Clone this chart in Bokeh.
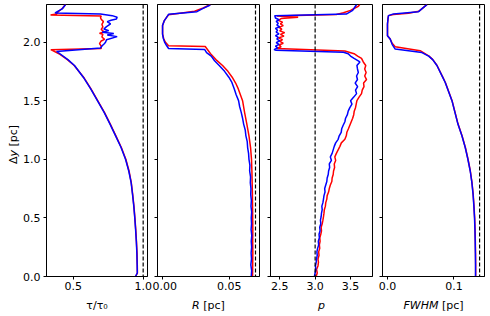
import math
from bokeh.plotting import figure
from bokeh.layouts import row, column
from bokeh.models import Range1d, FixedTicker, PrintfTickFormatter, Span
from bokeh.core.properties import value
from bokeh.embed import file_html
from bokeh.resources import INLINE

FONT = "DejaVu Sans"
RED = "#ff0000"
BLUE = "#0000ff"

# ---------------- data ----------------
y_ticks = [0.0, 0.5, 1.0, 1.5, 2.0]
y_limits = [0.0, 2.32]

# panel 1: tau / tau0
tau_blue_y = [0.00, 0.03, 0.10, 0.20, 0.30, 0.40, 0.50, 0.60, 0.70, 0.80, 0.90, 1.00, 1.10, 1.20,
              1.30, 1.40, 1.50, 1.60, 1.70, 1.80, 1.85, 1.90, 1.92, 1.949, 1.968, 1.985, 1.997,
              2.020, 2.046, 2.060, 2.072, 2.083, 2.097, 2.111, 2.131, 2.154, 2.174, 2.185, 2.197,
              2.211, 2.225, 2.239, 2.248, 2.282, 2.320]
tau_blue_x = [0.945, 0.958, 0.957, 0.955, 0.951, 0.946, 0.940, 0.933, 0.924, 0.914, 0.897, 0.874,
              0.842, 0.803, 0.763, 0.721, 0.673, 0.625, 0.572, 0.509, 0.462, 0.405, 0.381, 0.695,
              0.707, 0.722, 0.731, 0.738, 0.814, 0.743, 0.790, 0.707, 0.754, 0.719, 0.738, 0.767,
              0.743, 0.770, 0.809, 0.814, 0.779, 0.695, 0.370, 0.421, 0.445]
tau_red_y = [0.00, 0.03, 0.10, 0.20, 0.30, 0.40, 0.50, 0.60, 0.70, 0.80, 0.90, 1.00, 1.10, 1.20,
             1.30, 1.40, 1.50, 1.60, 1.70, 1.80, 1.85, 1.90, 1.935, 1.945, 1.966, 1.986, 2.009,
             2.023, 2.043, 2.066, 2.074, 2.088, 2.108, 2.128, 2.151, 2.174, 2.194, 2.208, 2.222,
             2.231, 2.240, 2.260, 2.290, 2.320]
tau_red_x = [0.946, 0.959, 0.958, 0.956, 0.952, 0.947, 0.941, 0.934, 0.925, 0.915, 0.899, 0.876,
             0.844, 0.805, 0.765, 0.723, 0.675, 0.627, 0.574, 0.507, 0.458, 0.398, 0.340, 0.700,
             0.700, 0.688, 0.700, 0.724, 0.705, 0.712, 0.688, 0.719, 0.700, 0.712, 0.705, 0.716,
             0.700, 0.695, 0.700, 0.338, 0.380, 0.395, 0.425, 0.445]

# panel 2: R [pc]
r_blue_y = [0.00, 0.05, 0.10, 0.15, 0.20, 0.25, 0.30, 0.35, 0.40, 0.45, 0.50, 0.55, 0.60, 0.65,
            0.70, 0.75, 0.80, 0.85, 0.90, 0.95, 1.00, 1.05, 1.10, 1.15, 1.20, 1.25, 1.30, 1.35,
            1.40, 1.45, 1.50, 1.55, 1.60, 1.655, 1.70, 1.75, 1.80, 1.84, 1.88, 1.91, 1.937,
            1.945, 1.97, 2.00, 2.03, 2.066, 2.14, 2.18, 2.21, 2.236, 2.259, 2.285, 2.316]
r_blue_x = [0.0665, 0.0668, 0.0662, 0.0667, 0.0664, 0.0668, 0.0665, 0.0669, 0.0664, 0.0667,
            0.0665, 0.0668, 0.0663, 0.0666, 0.0661, 0.0663, 0.0658, 0.0660, 0.0653, 0.0655,
            0.0648, 0.0645, 0.0638, 0.0635, 0.0625, 0.0620, 0.0608, 0.0600, 0.0590, 0.0578,
            0.0570, 0.0552, 0.0538, 0.0520, 0.0497, 0.0465, 0.0425, 0.0390, 0.0365, 0.0330,
            0.0315, 0.0045, 0.0030, 0.0015, 0.0006, 0.0000, 0.0000, 0.0012, 0.0030, 0.0045,
            0.0258, 0.0300, 0.0358]
r_red_y = [0.00, 0.10, 0.20, 0.30, 0.40, 0.50, 0.60, 0.70, 0.80, 0.90, 1.00, 1.10, 1.20, 1.30,
           1.40, 1.50, 1.60, 1.65, 1.70, 1.75, 1.80, 1.85, 1.90, 1.962, 1.968, 2.00, 2.03, 2.07,
           2.14, 2.18, 2.21, 2.232, 2.245, 2.262, 2.290, 2.320]
r_red_x = [0.0675, 0.0676, 0.0677, 0.0676, 0.0677, 0.0676, 0.0675, 0.0674, 0.0672, 0.0670,
           0.0667, 0.0660, 0.0648, 0.0632, 0.0615, 0.0600, 0.0568, 0.0548, 0.0522, 0.0490,
           0.0450, 0.0400, 0.0360, 0.0320, 0.0045, 0.0020, 0.0008, 0.0000, 0.0000, 0.0012,
           0.0030, 0.0045, 0.0130, 0.0240, 0.0305, 0.0358]

# panel 3: p
p_blue_y = [0.00, 0.03, 0.06, 0.09, 0.12, 0.15, 0.18, 0.21, 0.24, 0.27, 0.30, 0.33, 0.36, 0.39,
            0.42, 0.45, 0.48, 0.51, 0.54, 0.57, 0.60, 0.63, 0.66, 0.69, 0.72, 0.75, 0.78, 0.81,
            0.84, 0.87, 0.90, 0.93, 0.96, 0.99, 1.02, 1.05, 1.08, 1.11, 1.14, 1.17, 1.20, 1.23,
            1.26, 1.29, 1.32, 1.35, 1.38, 1.41, 1.44, 1.47, 1.50, 1.53, 1.56, 1.59, 1.62, 1.65,
            1.68, 1.71, 1.74, 1.77, 1.80, 1.83, 1.86, 1.88, 1.90, 1.912, 1.929, 1.935, 1.95,
            1.965, 1.98, 1.995, 2.01, 2.025, 2.04, 2.055, 2.07, 2.085, 2.10, 2.115, 2.13, 2.145,
            2.16, 2.175, 2.19, 2.205, 2.225, 2.238, 2.27, 2.32]
p_blue_x = [2.990, 3.000, 3.010, 3.005, 3.015, 3.020, 3.030, 3.025, 3.035, 3.050, 3.045, 3.060,
            3.055, 3.070, 3.065, 3.080, 3.075, 3.085, 3.090, 3.100, 3.095, 3.110, 3.118, 3.125,
            3.140, 3.135, 3.150, 3.165, 3.170, 3.185, 3.190, 3.205, 3.200, 3.230, 3.215, 3.240,
            3.255, 3.270, 3.290, 3.325, 3.340, 3.368, 3.375, 3.396, 3.420, 3.430, 3.455, 3.467,
            3.490, 3.520, 3.500, 3.545, 3.585, 3.570, 3.600, 3.565, 3.598, 3.585, 3.610, 3.598,
            3.590, 3.632, 3.550, 3.500, 3.467, 3.400, 2.450, 2.420, 2.470, 2.440, 2.490, 2.450,
            2.500, 2.460, 2.480, 2.440, 2.490, 2.450, 2.470, 2.440, 2.500, 2.460, 2.480, 2.450,
            2.490, 2.440, 2.430, 3.440, 3.530, 3.585]
p_red_y = [0.00, 0.03, 0.06, 0.09, 0.12, 0.15, 0.18, 0.21, 0.24, 0.27, 0.30, 0.33, 0.36, 0.39,
           0.42, 0.45, 0.48, 0.51, 0.54, 0.57, 0.60, 0.63, 0.66, 0.69, 0.72, 0.75, 0.78, 0.81,
           0.84, 0.87, 0.90, 0.93, 0.96, 0.99, 1.02, 1.05, 1.08, 1.11, 1.14, 1.17, 1.20, 1.23,
           1.26, 1.29, 1.32, 1.35, 1.38, 1.41, 1.44, 1.47, 1.50, 1.53, 1.56, 1.59, 1.62, 1.65,
           1.68, 1.71, 1.74, 1.77, 1.80, 1.83, 1.86, 1.88, 1.90, 1.923, 1.945, 1.96, 1.975,
           1.99, 2.005, 2.02, 2.035, 2.05, 2.065, 2.08, 2.095, 2.11, 2.125, 2.14, 2.155, 2.17,
           2.185, 2.20, 2.212, 2.222, 2.235, 2.25, 2.27, 2.305, 2.32]
p_red_x = [3.014, 3.030, 3.020, 3.040, 3.047, 3.040, 3.055, 3.050, 3.065, 3.060, 3.070, 3.066,
           3.080, 3.090, 3.085, 3.100, 3.110, 3.118, 3.125, 3.130, 3.145, 3.150, 3.165, 3.170,
           3.190, 3.200, 3.215, 3.236, 3.240, 3.255, 3.260, 3.275, 3.270, 3.290, 3.278, 3.300,
           3.325, 3.350, 3.370, 3.420, 3.440, 3.448, 3.470, 3.490, 3.510, 3.530, 3.545, 3.552,
           3.570, 3.580, 3.590, 3.620, 3.655, 3.665, 3.690, 3.684, 3.726, 3.700, 3.720, 3.700,
           3.715, 3.680, 3.655, 3.600, 3.550, 3.420, 2.460, 2.520, 2.490, 2.550, 2.500, 2.540,
           2.480, 2.560, 2.510, 2.570, 2.500, 2.530, 2.490, 2.550, 2.510, 2.540, 2.480, 2.520,
           2.760, 2.460, 3.300, 3.400, 3.500, 3.610, 3.630]

# panel 4: FWHM [pc]
f_blue_y = [0.00, 0.10, 0.20, 0.30, 0.40, 0.50, 0.60, 0.70, 0.80, 0.90, 1.00, 1.10, 1.20, 1.30,
            1.40, 1.50, 1.60, 1.655, 1.70, 1.80, 1.85, 1.88, 1.91, 1.94, 1.98, 2.026, 2.054,
            2.154, 2.20, 2.225, 2.24, 2.259, 2.319]
f_blue_x = [0.1325, 0.1325, 0.1323, 0.1320, 0.1316, 0.1310, 0.1300, 0.1288, 0.1270, 0.1245,
            0.1210, 0.1170, 0.1120, 0.1060, 0.1015, 0.0970, 0.0905, 0.0869, 0.0830, 0.0744,
            0.0680, 0.0620, 0.0518, 0.0116, 0.0070, 0.0040, 0.0000, 0.0000, 0.0008, 0.0015,
            0.0090, 0.0467, 0.0593]
f_red_y = [0.00, 0.10, 0.20, 0.30, 0.40, 0.50, 0.60, 0.70, 0.80, 0.90, 1.00, 1.10, 1.20, 1.30,
           1.40, 1.50, 1.60, 1.655, 1.70, 1.80, 1.85, 1.88, 1.926, 1.96, 1.99, 2.026, 2.054,
           2.154, 2.20, 2.225, 2.235, 2.245, 2.262, 2.319]
f_red_x = [0.1327, 0.1327, 0.1325, 0.1322, 0.1318, 0.1312, 0.1302, 0.1290, 0.1272, 0.1247,
           0.1212, 0.1172, 0.1122, 0.1062, 0.1017, 0.0972, 0.0907, 0.0871, 0.0832, 0.0746,
           0.0682, 0.0625, 0.0492, 0.0116, 0.0070, 0.0040, 0.0000, 0.0000, 0.0008, 0.0015,
           0.0090, 0.0316, 0.0470, 0.0593]

# reference (dashed) lines
ref_lines = [1.0, 0.0697, 3.0, 0.1386]

# axis settings
x_limits = [(0.309, 1.031), (-0.0038, 0.0727), (2.37, 3.81), (-0.0075, 0.146)]
x_ticks = [[0.5, 1.0], [0.0, 0.05], [2.5, 3.0, 3.5], [0.0, 0.1]]
x_formats = ["%.1f", "%.2f", "%.1f", "%.1f"]

# axis-label pieces: (text, italic?, advance in em incl. following space)
x_label_parts = [
    [("τ/τ₀", False, 1.90)],
    [("R", True, 0.695 + 0.318), ("[pc]", False, 1.965)],
    [("p", True, 0.635)],
    [("FWHM", True, 3.179 + 0.318), ("[pc]", False, 1.965)],
]
y_label_parts = [("Δ", False, 0.684), ("y", True, 0.592 + 0.318), ("[pc]", False, 1.965)]

# ---------------- layout constants ----------------
FS = "11px"
EM = 11.0
FRAME_H = 272
TOP_B = 4
BOT_B = 18
TOP_H = TOP_B + FRAME_H + BOT_B
YLAB_W = 20
LAB_H = 21
LAB_BASE = 10      # baseline height of x labels inside the strip
YLAB_BASE = 12.5   # baseline x of rotated y label
# (frame width, left border, right border)
geom = [(101, 26, 5), (102, 5, 5), (102, 6, 5), (102, 5, 3)]


def make_panel(i, first):
    fw, bl, br = geom[i]
    p = figure(frame_width=fw, frame_height=FRAME_H,
               x_range=Range1d(*x_limits[i]), y_range=Range1d(*y_limits),
               output_backend="svg", toolbar_location=None,
               min_border_left=bl, min_border_right=br,
               min_border_top=TOP_B, min_border_bottom=BOT_B)
    p.grid.visible = False
    p.outline_line_color = "black"
    p.outline_line_width = 1
    p.background_fill_color = "white"
    p.border_fill_color = "white"

    xa = p.xaxis[0]
    xa.ticker = FixedTicker(ticks=x_ticks[i])
    xa.formatter = PrintfTickFormatter(format=x_formats[i])
    xa.major_label_text_font = FONT
    xa.major_label_text_font_size = FS
    xa.major_label_text_color = "black"
    xa.major_tick_in = 0
    xa.major_tick_out = 3
    xa.minor_tick_in = 0
    xa.minor_tick_out = 0
    xa.axis_line_color = "black"
    xa.major_tick_line_color = "black"
    xa.major_label_standoff = 2

    ya = p.yaxis[0]
    ya.ticker = FixedTicker(ticks=y_ticks)
    ya.formatter = PrintfTickFormatter(format="%.1f")
    ya.major_label_text_font = FONT
    ya.major_label_text_font_size = FS
    ya.major_label_text_color = "black"
    ya.major_tick_in = 0
    ya.major_tick_out = 3
    ya.minor_tick_in = 0
    ya.minor_tick_out = 0
    ya.axis_line_color = "black"
    ya.major_tick_line_color = "black"
    if first:
        ya.major_label_standoff = 3
    else:
        ya.major_label_overrides = {t: "" for t in y_ticks}
        ya.major_label_standoff = 0
    return p


panel_data = [
    (tau_red_x, tau_red_y, tau_blue_x, tau_blue_y),
    (r_red_x, r_red_y, r_blue_x, r_blue_y),
    (p_red_x, p_red_y, p_blue_x, p_blue_y),
    (f_red_x, f_red_y, f_blue_x, f_blue_y),
]

figs = []
for i, (rx, ry, bx, by) in enumerate(panel_data):
    p = make_panel(i, i == 0)
    p.add_layout(Span(location=ref_lines[i], dimension="height", line_color="black",
                      line_dash="4 2", line_width=1.2))
    p.line(rx, ry, line_color=RED, line_width=1.5)
    p.line(bx, by, line_color=BLUE, line_width=1.5)
    figs.append(p)


def blank_fig(w, h):
    f = figure(frame_width=w, frame_height=h, x_range=Range1d(0, w), y_range=Range1d(0, h),
               x_axis_type=None, y_axis_type=None, output_backend="svg",
               toolbar_location=None, min_border=0)
    f.grid.visible = False
    f.outline_line_color = None
    f.background_fill_color = "white"
    f.border_fill_color = "white"
    return f


def draw_parts(f, parts, cx, cy, angle):
    total = sum(a for _, _, a in parts) * EM
    pos = -total / 2.0
    for t, it, adv in parts:
        if len(parts) == 1:
            off, align = 0.0, "center"
        else:
            off, align = pos, "left"
        if angle == 0:
            x, y = cx + off, cy
        else:
            x, y = cx, cy + off
        f.text(x=[x], y=[y], text=[t], angle=angle, text_align=align,
               text_baseline="alphabetic", text_font=value(FONT),
               text_font_size=value(FS), text_font_style="italic" if it else "normal",
               text_color="black")
        pos += adv * EM


# y-label column (left of first panel)
ylab = blank_fig(YLAB_W, TOP_H)
frame_mid_from_top = TOP_B + FRAME_H / 2.0
draw_parts(ylab, y_label_parts, YLAB_BASE, TOP_H - frame_mid_from_top, math.pi / 2)

# x-label strip under all panels
total_w = YLAB_W + sum(bl + fw + br for fw, bl, br in geom)
xlab = blank_fig(total_w, LAB_H)
start = YLAB_W
for i, (fw, bl, br) in enumerate(geom):
    cx = start + bl + fw / 2.0
    draw_parts(xlab, x_label_parts[i], cx, LAB_BASE, 0)
    start += bl + fw + br

layout = column(row(ylab, *figs), xlab)
open("out.html", "w").write(file_html(layout, INLINE))
